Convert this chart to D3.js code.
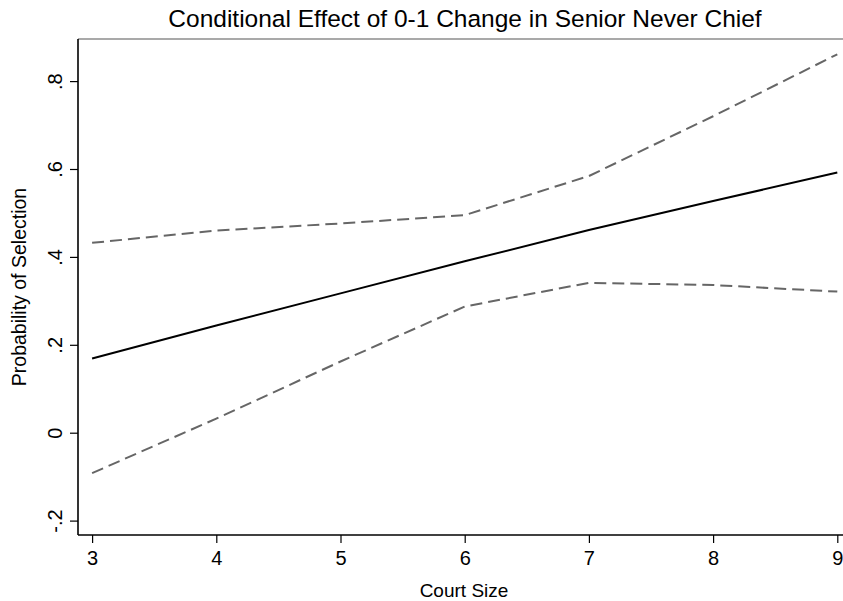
<!DOCTYPE html>
<html>
<head>
<meta charset="utf-8">
<script src="https://cdn.jsdelivr.net/npm/d3@7"></script>
<style>
  body { margin: 0; background: #fff; }
  svg { display: block; font-family: "Liberation Sans", Arial, Helvetica, sans-serif; }
</style>
</head>
<body>
<div id="chart"></div>
<script>
// 图表尺寸
const width = 843;
const height = 601;

// 数据
const courtSize = [3, 4, 5, 6, 7, 8, 9];
const estimate = [0.169, 0.244, 0.317, 0.390, 0.461, 0.527, 0.592];
const upperBound = [0.432, 0.460, 0.476, 0.495, 0.584, 0.720, 0.861];
const lowerBound = [-0.092, 0.032, 0.162, 0.287, 0.341, 0.336, 0.321];
const xTicks = [3, 4, 5, 6, 7, 8, 9];
const yTicks = [-0.2, 0, 0.2, 0.4, 0.6, 0.8];
const yTickLabels = ["-.2", "0", ".2", ".4", ".6", ".8"];

// 绘图区域
const plotLeft = 78;
const plotTop = 39;
const plotBottom = 535;
const plotRight = 850;

const svg = d3.select("#chart")
    .append("svg")
    .attr("width", width)
    .attr("height", height);

// 比例尺
const x = d3.scaleLinear().domain([3, 9]).range([92.1, 837.3]);
const y = d3.scaleLinear().domain([0, 0.8]).range([432.7, 81.1]);

// 顶部边框
svg.append("line")
    .attr("x1", plotLeft).attr("x2", plotRight)
    .attr("y1", plotTop).attr("y2", plotTop)
    .attr("stroke", "#555")
    .attr("stroke-width", 1.2);

// 线条生成器
const line = d3.line()
    .x(d => x(d[0]))
    .y(d => y(d[1]));

const series = [
    { values: upperBound, color: "#666", width: 2, dash: "12,6" },
    { values: lowerBound, color: "#666", width: 2, dash: "12,6" },
    { values: estimate, color: "#000", width: 2, dash: null }
];

series.forEach(s => {
    svg.append("path")
        .datum(courtSize.map((c, i) => [c, s.values[i]]))
        .attr("d", line)
        .attr("fill", "none")
        .attr("stroke", s.color)
        .attr("stroke-width", s.width)
        .attr("stroke-dasharray", s.dash);
});

// X 轴
const xAxis = svg.append("g")
    .attr("transform", `translate(0,${plotBottom})`)
    .call(d3.axisBottom(x).tickValues(xTicks).tickSize(8).tickPadding(8).tickFormat(d3.format("d")));
xAxis.select(".domain")
    .attr("d", `M${plotLeft},0H${plotRight}`)
    .attr("stroke", "#000")
    .attr("stroke-width", 1.6);
xAxis.selectAll(".tick line").attr("stroke", "#000").attr("stroke-width", 1.2);
xAxis.selectAll(".tick text")
    .attr("font-size", 20)
    .attr("font-family", "Liberation Sans, Arial, sans-serif")
    .attr("fill", "#000");

// Y 轴
const yAxis = svg.append("g")
    .attr("transform", `translate(${plotLeft},0)`)
    .call(d3.axisLeft(y).tickValues(yTicks).tickSize(8)
        .tickFormat((d, i) => yTickLabels[i]));
yAxis.select(".domain")
    .attr("d", `M0,${plotTop}V${plotBottom}`)
    .attr("stroke", "#000")
    .attr("stroke-width", 1.6);
yAxis.selectAll(".tick line").attr("stroke", "#000").attr("stroke-width", 1.2);
yAxis.selectAll(".tick text")
    .attr("x", null)
    .attr("dy", null)
    .attr("text-anchor", "middle")
    .attr("transform", "translate(-16,0) rotate(-90)")
    .attr("font-size", 20)
    .attr("font-family", "Liberation Sans, Arial, sans-serif")
    .attr("fill", "#000");

// 标题
svg.append("text")
    .attr("x", 465)
    .attr("y", 27)
    .attr("text-anchor", "middle")
    .attr("font-size", 24.5)
    .attr("fill", "#000")
    .text("Conditional Effect of 0-1 Change in Senior Never Chief");

// 轴标题
svg.append("text")
    .attr("x", 464)
    .attr("y", 597)
    .attr("text-anchor", "middle")
    .attr("font-size", 19)
    .attr("fill", "#000")
    .text("Court Size");

svg.append("text")
    .attr("transform", `translate(26,${(plotTop + plotBottom) / 2}) rotate(-90)`)
    .attr("text-anchor", "middle")
    .attr("font-size", 19.5)
    .attr("fill", "#000")
    .text("Probability of Selection");
</script>
</body>
</html>
